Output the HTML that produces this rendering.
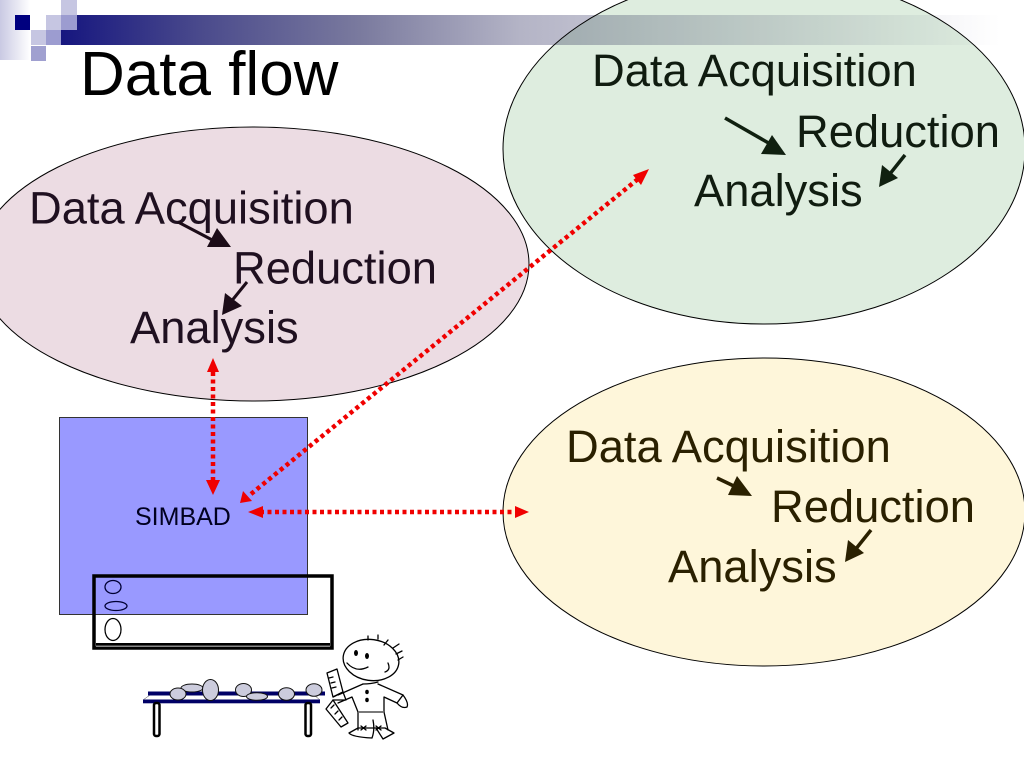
<!DOCTYPE html>
<html><head><meta charset="utf-8">
<style>
html,body{margin:0;padding:0;background:#fff;width:1024px;height:768px;overflow:hidden}
svg{display:block}
text{font-family:"Liberation Sans",sans-serif}
</style></head><body>
<svg width="1024" height="768" viewBox="0 0 1024 768" xmlns="http://www.w3.org/2000/svg">
<defs>
<linearGradient id="bar" gradientUnits="userSpaceOnUse" x1="61" x2="1000" y1="0" y2="0">
<stop offset="0" stop-color="#16167f"/>
<stop offset="0.148" stop-color="#4a4a8c"/>
<stop offset="0.318" stop-color="#7a7a9e"/>
<stop offset="0.489" stop-color="#b4b4c6"/>
<stop offset="1" stop-color="#ffffff"/>
</linearGradient>
<linearGradient id="side" x1="0" x2="1" y1="0" y2="0">
<stop offset="0" stop-color="#c9c9e3"/><stop offset="1" stop-color="#ffffff"/>
</linearGradient>
</defs>

<!-- template decoration -->
<rect x="0" y="0" width="30" height="60" fill="url(#side)"/>
<rect x="61" y="15" width="939" height="30" fill="url(#bar)"/>
<rect x="15" y="15" width="15" height="15" fill="#00007f"/>
<rect x="46" y="15" width="15" height="15" fill="#c6c6e2"/>
<rect x="61" y="15" width="16" height="15" fill="#9c9cd0"/>
<rect x="61" y="0" width="16" height="15" fill="#c6c6e2"/>
<rect x="31" y="30" width="15" height="15" fill="#c6c6e2"/>
<rect x="46" y="30" width="15" height="15" fill="#9c9cd0"/>
<rect x="31" y="46" width="15" height="15" fill="#a0a0d0"/>

<text x="80" y="95" font-size="62" fill="#000">Data flow</text>

<!-- ellipses -->
<ellipse cx="253" cy="264" rx="276" ry="137" fill="#ecdce3" stroke="#000" stroke-width="1"/>
<ellipse cx="764" cy="149" rx="261" ry="175" fill="#deeddf" stroke="#000" stroke-width="1" style="mix-blend-mode:multiply"/>
<ellipse cx="764" cy="512" rx="261" ry="154" fill="#fef6da" stroke="#000" stroke-width="1"/>

<!-- pink text -->
<g font-size="45.300" fill="#1f1020">
<text x="29" y="223.500">Data Acquisition</text>
<text x="233" y="283.500">Reduction</text>
<text x="130" y="343">Analysis</text>
</g>
<line x1="178" y1="222" x2="218" y2="243" stroke="#1c0c18" stroke-width="3"/>
<path d="M231 247L207 247L217 228z" fill="#1c0c18"/>
<line x1="247" y1="282" x2="230" y2="303" stroke="#1c0c18" stroke-width="3"/>
<path d="M222 315L225 293L242 306z" fill="#1c0c18"/>

<!-- green text -->
<g font-size="45.300" fill="#101c10">
<text x="592" y="86">Data Acquisition</text>
<text x="796" y="147">Reduction</text>
<text x="694" y="206">Analysis</text>
</g>
<line x1="725" y1="118" x2="772" y2="145" stroke="#102010" stroke-width="3.500"/>
<path d="M786 155L761 154L772 135z" fill="#102010"/>
<line x1="905" y1="155" x2="889" y2="175" stroke="#102010" stroke-width="3.500"/>
<path d="M879 187L882 165L898 178z" fill="#102010"/>

<!-- yellow text -->
<g font-size="45.300" fill="#2a2000">
<text x="566" y="462">Data Acquisition</text>
<text x="771" y="522">Reduction</text>
<text x="668" y="582">Analysis</text>
</g>
<line x1="717" y1="478" x2="738" y2="488" stroke="#2a2000" stroke-width="3.500"/>
<path d="M752 496L728 495L737 476z" fill="#2a2000"/>
<line x1="871" y1="530" x2="855" y2="550" stroke="#2a2000" stroke-width="3.500"/>
<path d="M845 562L848 540L864 553z" fill="#2a2000"/>

<!-- blue box -->
<rect x="59.500" y="417.500" width="248" height="197" fill="#9999ff" stroke="#333" stroke-width="1"/>
<text x="135" y="525" font-size="25" fill="#000020">SIMBAD</text>

<!-- red dotted connectors -->
<g stroke="#f00000" stroke-width="4.500" stroke-dasharray="4 3.500" fill="none">
<line x1="213" y1="372" x2="213" y2="482"/>
<line x1="638" y1="179" x2="251" y2="494"/>
<line x1="260" y1="512" x2="516" y2="512"/>
</g>
<g fill="#f00000">
<path d="M213 358L207 372L219 372z"/>
<path d="M213 495L206 480L220 480z"/>
<path d="M649 169L633 175L641 185z"/>
<path d="M240 503L243 491L252 501z"/>
<path d="M248 512L263 506L263 518z"/>
<path d="M529 512L515 506L515 518z"/>
</g>

<!-- monitor frame -->
<rect x="94" y="576" width="238" height="72" fill="none" stroke="#000" stroke-width="3.500"/>
<rect x="96" y="643" width="234" height="2.500" fill="#000"/>
<rect x="96" y="645.500" width="234" height="1.500" fill="#888"/>
<ellipse cx="113" cy="587" rx="8" ry="6.500" fill="none" stroke="#000033" stroke-width="1.300"/>
<ellipse cx="116" cy="606" rx="11" ry="4.500" fill="none" stroke="#000033" stroke-width="1.300"/>
<ellipse cx="113" cy="629.500" rx="8" ry="11" fill="#fff" stroke="#000" stroke-width="1.300"/>

<!-- table -->
<path d="M150 695L143 700L320 700L314 695z" fill="#fff" stroke="#444" stroke-width="0.500"/>
<rect x="148" y="691.500" width="177" height="4" fill="#000066"/>
<rect x="143" y="699.500" width="177" height="3.800" fill="#000066"/>
<rect x="154" y="703" width="5.500" height="33" rx="2" fill="#fff" stroke="#000" stroke-width="2.500"/>
<rect x="305.500" y="703" width="5.500" height="33" rx="2" fill="#fff" stroke="#000" stroke-width="2.500"/>
<g fill="#ccccdd" stroke="#111" stroke-width="1">
<ellipse cx="192" cy="688" rx="11" ry="4"/>
<ellipse cx="178" cy="694" rx="8" ry="6"/>
<ellipse cx="210.500" cy="690" rx="8" ry="10.500"/>
<ellipse cx="243.500" cy="690" rx="8" ry="6.500"/>
<ellipse cx="257" cy="696.500" rx="10.500" ry="3.800"/>
<ellipse cx="286.500" cy="694" rx="8" ry="6.300"/>
<ellipse cx="314" cy="690" rx="8" ry="6.300"/>
</g>

<!-- cartoon figure -->
<g fill="none" stroke="#000" stroke-width="1.300" stroke-linecap="round" stroke-linejoin="round">
<ellipse cx="371" cy="660" rx="28" ry="20.500" transform="rotate(8 371 660)" fill="#fff"/>
<path d="M368 636L368 640M378 635L378 639M384 645L388 640M393 648L399 644M396 654L402 651M398 660L403 657"/>
<path d="M347 663Q356 673 368 667M388 663Q391 670 385 672"/>
<path d="M363 684Q371 684 378 682"/>
<path d="M363 684L338 695M338 703L352 697L358 712L358 730"/>
<path d="M378 684L403 695Q409 703 407 707Q402 709 397 703L384 697L384 712L388 730"/>
<path d="M397 703L403 695"/>
<path d="M358 728L349 733Q352 737 372 738Q375 730 373 720M376 728L383 739L394 733L385 728M358 728L385 728"/>
<path d="M361 726L366 730M366 726L361 730M376 726L381 730M381 726L376 730"/>
<path d="M327 673L337 669L343 692L333 697zM329 678L333 677M331 683L335 682M332 688L336 687"/>
<path d="M326 709L333 700L348 723L341 727zM331 708L334 705M335 714L338 711M339 720L342 717"/>
<path d="M333 697L343 692L346 700L333 700"/>
</g>
<line x1="358" y1="712" x2="384" y2="712" stroke="#666" stroke-width="1.800"/>
<ellipse cx="356" cy="653" rx="2" ry="3" fill="#000"/>
<ellipse cx="367" cy="656" rx="2" ry="3" fill="#000"/>
<ellipse cx="367" cy="692" rx="1.800" ry="2.200" fill="#000"/>
<ellipse cx="367" cy="700" rx="1.800" ry="2.200" fill="#000"/>
</svg>
</body></html>
